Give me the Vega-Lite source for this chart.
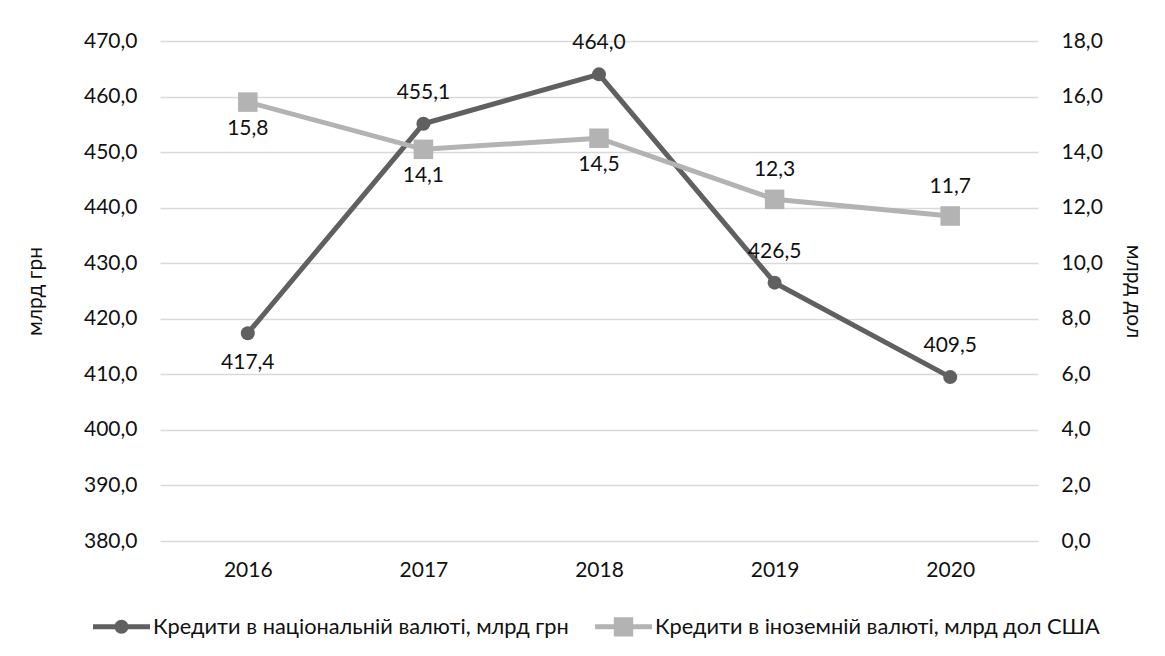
{
  "$schema": "https://vega.github.io/schema/vega-lite/v6.json",
  "width": 878,
  "height": 500,
  "autosize": {"type": "none"},
  "padding": {"left": 160, "top": 41, "right": 127, "bottom": 115},
  "background": "white",
  "config": {
    "font": "Lato",
    "view": {"stroke": null},
    "locale": {"number": {"decimal": ",", "thousands": " ", "grouping": [3], "currency": ["", ""]}},
    "axis": {"labelFont": "Lato", "titleFont": "Lato", "labelFontSize": 21, "titleFontSize": 21, "labelColor": "#111111", "titleColor": "#111111", "titleFontWeight": "normal", "ticks": false, "domain": false}
  },
  "data": {
    "values": [
      {"year": "2016", "series": "Кредити в національній валюті, млрд грн", "value": 417.4},
      {"year": "2017", "series": "Кредити в національній валюті, млрд грн", "value": 455.1},
      {"year": "2018", "series": "Кредити в національній валюті, млрд грн", "value": 464.0},
      {"year": "2019", "series": "Кредити в національній валюті, млрд грн", "value": 426.5},
      {"year": "2020", "series": "Кредити в національній валюті, млрд грн", "value": 409.5},
      {"year": "2016", "series": "Кредити в іноземній валюті, млрд дол США", "value": 15.8},
      {"year": "2017", "series": "Кредити в іноземній валюті, млрд дол США", "value": 14.1},
      {"year": "2018", "series": "Кредити в іноземній валюті, млрд дол США", "value": 14.5},
      {"year": "2019", "series": "Кредити в іноземній валюті, млрд дол США", "value": 12.3},
      {"year": "2020", "series": "Кредити в іноземній валюті, млрд дол США", "value": 11.7}
    ]
  },
  "encoding": {
    "x": {"field": "year", "type": "ordinal", "scale": {"type": "point", "padding": 0.5}, "axis": {"title": null, "labelAngle": 0, "labelPadding": 18, "grid": false}}
  },
  "layer": [
    {
      "transform": [{"filter": "datum.series === 'Кредити в національній валюті, млрд грн'"}],
      "encoding": {
        "y": {"field": "value", "type": "quantitative", "scale": {"domain": [380, 470], "zero": false, "nice": false}, "axis": {"orient": "left", "title": "млрд грн", "values": [380, 390, 400, 410, 420, 430, 440, 450, 460, 470], "format": ".1f", "labelPadding": 23, "titlePadding": 38, "grid": true, "gridColor": "#d9d9d9", "gridWidth": 1.3}}
      },
      "layer": [
        {"mark": {"type": "line", "strokeWidth": 5},
         "encoding": {"color": {"field": "series", "type": "nominal", "sort": ["Кредити в національній валюті, млрд грн", "Кредити в іноземній валюті, млрд дол США"], "scale": {"domain": ["Кредити в національній валюті, млрд грн", "Кредити в іноземній валюті, млрд дол США"], "range": ["#606060", "#b3b3b3"]},
           "legend": {"orient": "none", "legendX": -67, "legendY": 557, "direction": "horizontal", "title": null, "symbolSize": 3249, "labelFontSize": 21.8, "labelFont": "Lato", "labelColor": "#111111", "labelOffset": 3, "columnPadding": 26, "labelLimit": 700,
             "encode": {"symbols": {"update": {
               "shape": {"signal": "datum.value === 'Кредити в національній валюті, млрд грн' ? 'M-1,-0.088L1,-0.088L1,0.088L-1,0.088Z M0.245,0A0.245,0.245 0 1,1 -0.245,0A0.245,0.245 0 1,1 0.245,0Z' : 'M-1,-0.088L1,-0.088L1,0.088L-1,0.088Z M-0.34,-0.34L0.34,-0.34L0.34,0.34L-0.34,0.34Z'"},
               "fill": {"scale": "color", "field": "value"},
               "fillOpacity": {"value": 1},
               "opacity": {"value": 1},
               "strokeWidth": {"value": 0}
             }}}}}}},
        {"mark": {"type": "point", "shape": "circle", "filled": true, "size": 196, "opacity": 1},
         "encoding": {"color": {"field": "series", "type": "nominal", "scale": {"domain": ["Кредити в національній валюті, млрд грн", "Кредити в іноземній валюті, млрд дол США"], "range": ["#606060", "#b3b3b3"]}}}},
        {"transform": [{"filter": "datum.year !== '2016'"}],
         "mark": {"type": "text", "dy": -31, "fontSize": 21, "font": "Lato", "color": "#111111", "baseline": "middle"},
         "encoding": {"text": {"field": "value", "type": "quantitative", "format": ".1f"}}},
        {"transform": [{"filter": "datum.year === '2016'"}],
         "mark": {"type": "text", "dy": 30, "fontSize": 21, "font": "Lato", "color": "#111111", "baseline": "middle"},
         "encoding": {"text": {"field": "value", "type": "quantitative", "format": ".1f"}}}
      ]
    },
    {
      "transform": [{"filter": "datum.series === 'Кредити в іноземній валюті, млрд дол США'"}],
      "encoding": {
        "y": {"field": "value", "type": "quantitative", "scale": {"domain": [0, 18], "nice": false}, "axis": {"orient": "right", "title": "млрд дол", "values": [0, 2, 4, 6, 8, 10, 12, 14, 16, 18], "format": ".1f", "labelPadding": 23, "titlePadding": 20, "grid": false}}
      },
      "layer": [
        {"mark": {"type": "line", "strokeWidth": 5},
         "encoding": {"color": {"field": "series", "type": "nominal", "scale": {"domain": ["Кредити в національній валюті, млрд грн", "Кредити в іноземній валюті, млрд дол США"], "range": ["#606060", "#b3b3b3"]}}}},
        {"mark": {"type": "point", "shape": "square", "filled": true, "size": 380, "opacity": 1},
         "encoding": {"color": {"field": "series", "type": "nominal", "scale": {"domain": ["Кредити в національній валюті, млрд грн", "Кредити в іноземній валюті, млрд дол США"], "range": ["#606060", "#b3b3b3"]}}}},
        {"transform": [{"filter": "datum.year === '2016' || datum.year === '2017' || datum.year === '2018'"}],
         "mark": {"type": "text", "dy": 27, "fontSize": 21, "font": "Lato", "color": "#111111", "baseline": "middle"},
         "encoding": {"text": {"field": "value", "type": "quantitative", "format": ".1f"}}},
        {"transform": [{"filter": "datum.year === '2019' || datum.year === '2020'"}],
         "mark": {"type": "text", "dy": -29, "fontSize": 21, "font": "Lato", "color": "#111111", "baseline": "middle"},
         "encoding": {"text": {"field": "value", "type": "quantitative", "format": ".1f"}}}
      ]
    }
  ],
  "resolve": {"scale": {"y": "independent"}}
}
